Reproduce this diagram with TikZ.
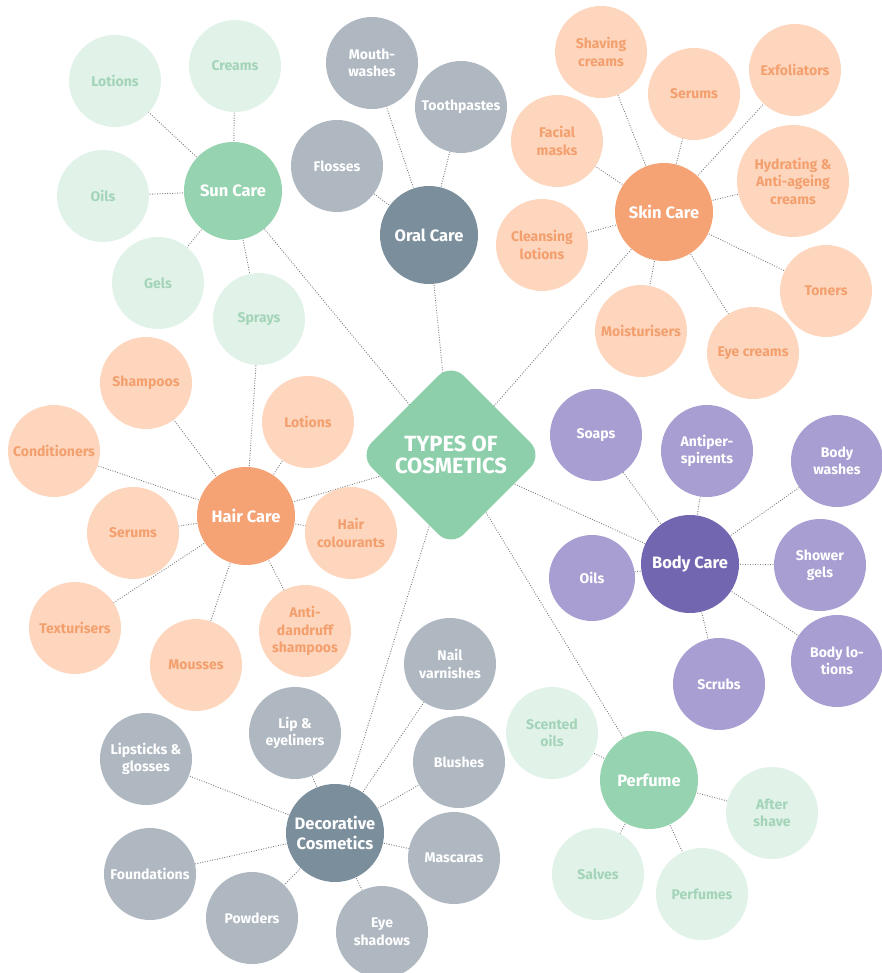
\documentclass[tikz,border=0pt]{standalone}
\usepackage{fontspec}
\setmainfont{Fira Sans}
\usetikzlibrary{shapes.geometric,backgrounds}

% colours of the groups
\definecolor{maingreen}{HTML}{8ECFAB}
\definecolor{sunhub}{HTML}{96D3B0}
\definecolor{sunleaf}{HTML}{E1F2E8}
\definecolor{suntext}{HTML}{A3D4B8}
\definecolor{orahub}{HTML}{F5A274}
\definecolor{oraleaf}{HTML}{FDD6BD}
\definecolor{oratext}{HTML}{F39F6E}
\definecolor{slatehub}{HTML}{7B8E9C}
\definecolor{greyleaf}{HTML}{AFB8C1}
\definecolor{purhub}{HTML}{7366B0}
\definecolor{purleaf}{HTML}{A89ED2}
\definecolor{linegrey}{HTML}{7A7A7A}

\newcommand{\leaffont}{\fontsize{14}{17.5}\selectfont\bfseries}
\newcommand{\hubfont}{\fontsize{16.5}{19.5}\selectfont\bfseries}
\newcommand{\titlefont}{\fontsize{22}{22.5}\selectfont\bfseries}

\tikzset{
  leaf/.style={circle, minimum size=92pt, inner sep=0pt, align=center, font=\leaffont},
  hub/.style={circle, minimum size=98pt, inner sep=0pt, align=center, font=\hubfont, text=white},
  conn/.style={draw=linegrey, line width=0.9pt, dash pattern=on 0.9pt off 1.6pt},
}

\begin{document}
\begin{tikzpicture}[x=1pt, y=-1pt]
\useasboundingbox (0,0) rectangle (882,973);

% centre
\node[diamond, aspect=1, fill=maingreen, rounded corners=18pt, minimum size=184pt,
      inner sep=0pt, align=center, font=\titlefont, text=white] (types) at (451,455) {TYPES OF\\COSMETICS};

% hubs
\node[hub, fill=sunhub] (sun) at (233,191) {Sun Care};
\node[hub, fill=slatehub] (oral) at (429,235) {Oral Care};
\node[hub, fill=orahub] (skin) at (664,212) {Skin Care};
\node[hub, fill=orahub] (hair) at (246,516) {Hair Care};
\node[hub, fill=purhub] (body) at (690,564) {Body Care};
\node[hub, fill=slatehub] (deco) at (335,833) {Decorative\\Cosmetics};
\node[hub, fill=sunhub] (perf) at (649,780) {Perfume};

% Sun care
\foreach \n/\x/\y/\t in {sunlotions/115/81/Lotions, suncreams/235/66/Creams,
    sunoils/103/196/Oils, sungels/158/283/Gels, sunsprays/259/319/Sprays}
  \node[leaf, fill=sunleaf, text=suntext] (\n) at (\x,\y) {\t};

% Oral care
\foreach \n/\x/\y/\t in {mouthwash/372/63/{Mouth-\\washes}, toothpaste/461/107/Toothpastes,
    floss/337/166/Flosses}
  \node[leaf, fill=greyleaf, text=white] (\n) at (\x,\y) {\t};

% Skin care
\foreach \n/\x/\y/\t in {shaving/601/52/{Shaving\\creams}, skinserum/694/94/Serums,
    exfol/795/70/Exfoliators, facial/557/141/{Facial\\masks}, cleansing/542/245/{Cleansing\\lotions},
    toners/826/291/Toners, moist/641/331/Moisturisers, eyecream/753/353/Eye creams}
  \node[leaf, fill=oraleaf, text=oratext] (\n) at (\x,\y) {\t};
\node[leaf, fill=oraleaf, text=oratext, minimum size=112pt] (hydrating) at (793,181) {Hydrating \&\\Anti-ageing\\creams};

% Hair care
\foreach \n/\x/\y/\t in {shampoo/146/383/Shampoos, condit/54/451/Conditioners,
    hairlot/308/422/Lotions, hairserum/133/533/Serums, colour/351/533/{Hair\\colourants},
    textur/75/628/Texturisers, mousse/196/665/Mousses, dandruff/305/631/{Anti-\\dandruff\\shampoos}}
  \node[leaf, fill=oraleaf, text=oratext] (\n) at (\x,\y) {\t};

% Body care
\foreach \n/\x/\y/\t in {soaps/596/435/Soaps, antiper/707/451/{Antiper-\\spirents},
    bodywash/837/461/{Body\\washes}, shower/820/565/{Shower\\gels},
    scrubs/719/684/Scrubs, bodylot/837/661/{Body lo-\\tions}}
  \node[leaf, fill=purleaf, text=white] (\n) at (\x,\y) {\t};
\node[leaf, fill=purleaf, text=white, minimum size=86pt] (bodyoil) at (592,578) {Oils};

% Decorative cosmetics
\foreach \n/\x/\y/\t in {lipeye/295/733/{Lip \&\\eyeliners}, lipstick/146/759/{Lipsticks \&\\glosses},
    nail/450/664/{Nail\\varnishes}, blush/459/762/Blushes, found/150/874/Foundations,
    mascara/454/858/Mascaras, powder/252/918/Powders, eyeshadow/382/932/{Eye\\shadows}}
  \node[leaf, fill=greyleaf, text=white] (\n) at (\x,\y) {\t};

% Perfume
\foreach \n/\x/\y/\t in {scented/552/733/{Scented\\oils}, aftershave/772/813/{After\\shave},
    salves/598/874/Salves, perfumes/702/894/Perfumes}
  \node[leaf, fill=sunleaf, text=suntext] (\n) at (\x,\y) {\t};

% dotted links, behind the circles
\begin{scope}[on background layer]
  \foreach \h in {sun,oral,skin,hair,body,deco,perf}
    \draw[conn] (types.center) -- (\h.center);
  \foreach \h/\kids in {sun/{sunlotions,suncreams,sunoils,sungels,sunsprays},
      oral/{mouthwash,toothpaste,floss},
      skin/{shaving,skinserum,exfol,facial,hydrating,cleansing,toners,moist,eyecream},
      hair/{shampoo,condit,hairlot,hairserum,colour,textur,mousse,dandruff,sunsprays},
      body/{soaps,antiper,bodywash,bodyoil,shower,scrubs,bodylot},
      deco/{lipeye,lipstick,nail,blush,found,mascara,powder,eyeshadow},
      perf/{scented,aftershave,salves,perfumes}}
    \foreach \k in \kids
      \draw[conn] (\h.center) -- (\k.center);
\end{scope}

\end{tikzpicture}
\end{document}
